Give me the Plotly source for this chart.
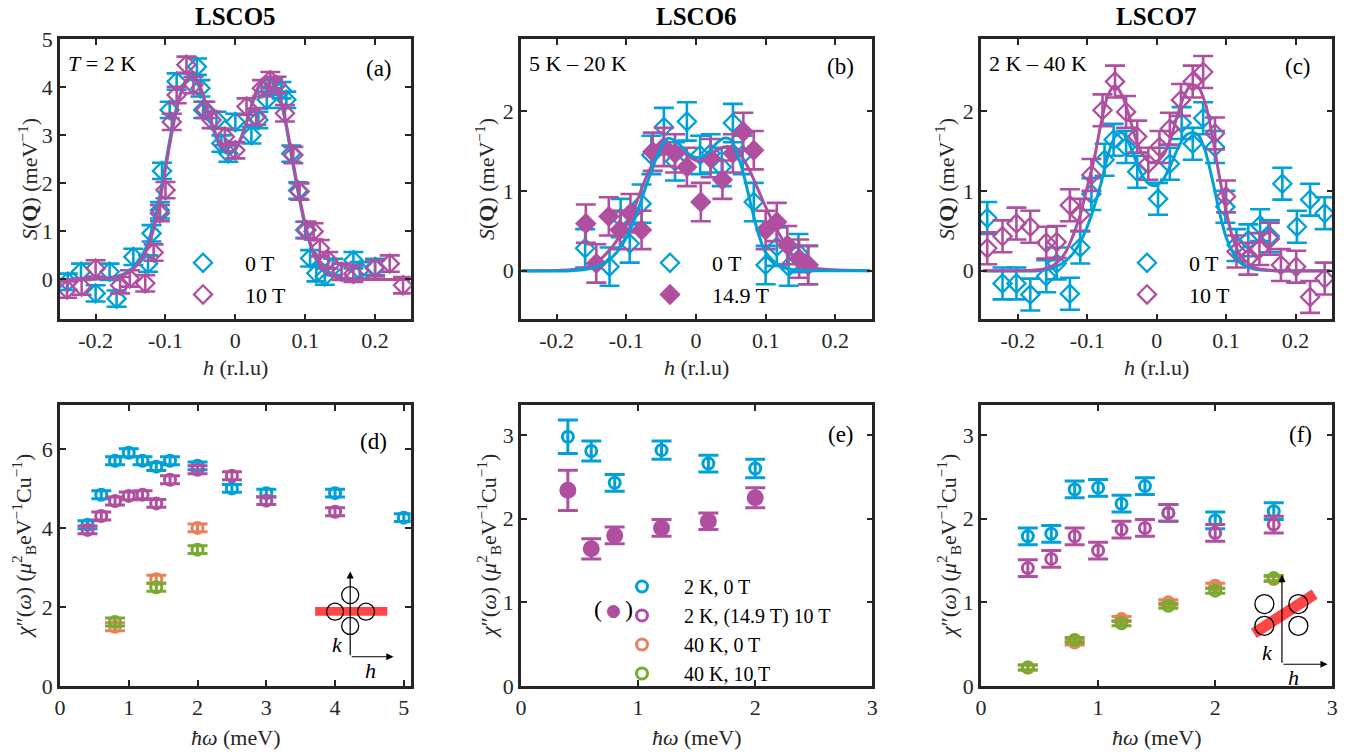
import plotly.graph_objects as go

W, H = 1361, 756
FONT = "Liberation Serif"
BLUE = "#00A0D8"
PURP = "#B04FA0"
ORNG = "#E8825A"
GRN = "#78AB30"
AXC = "#262626"

# ---------------- Panel (a) LSCO5 ----------------
a_h_0T = [-0.24, -0.221, -0.2, -0.18, -0.17, -0.146, -0.125, -0.12, -0.108, -0.105, -0.094, -0.084,
          -0.055, -0.05, -0.046, -0.027, -0.02, -0.01, 0.0, 0.023, 0.033, 0.045, 0.054, 0.066, 0.073,
          0.08, 0.09, 0.1, 0.107, 0.116, 0.128, 0.14, 0.169, 0.178, 0.2]
a_s_0T = [-0.05, 0.16, -0.29, 0.16, -0.4, 0.47, 0.33, 0.96, 1.44, 2.26, 3.53, 4.12,
          4.43, 3.98, 3.53, 3.32, 2.83, 2.62, 3.28, 3.0, 3.32, 3.74, 4.01, 3.94, 3.74,
          2.62, 1.85, 1.03, 0.44, 0.13, 0.06, 0.26, 0.40, 0.19, 0.26]
a_h_10T = [-0.241, -0.22, -0.2, -0.165, -0.151, -0.129, -0.117, -0.108, -0.1, -0.091, -0.084, -0.07,
           -0.06, -0.043, -0.034, -0.015, 0.0, 0.016, 0.03, 0.038, 0.05, 0.059, 0.071, 0.083, 0.092,
           0.102, 0.112, 0.121, 0.133, 0.152, 0.169, 0.2, 0.221, 0.24]
a_s_10T = [-0.21, -0.15, 0.23, -0.12, 0.02, -0.08, 0.56, 1.38, 1.86, 3.28, 3.84, 4.47,
           4.05, 3.53, 3.32, 2.97, 2.69, 3.6, 3.39, 3.98, 4.15, 4.05, 3.46, 2.59, 1.83,
           1.03, 1.0, 0.65, 0.4, 0.16, 0.12, 0.23, 0.33, -0.12]
a_err = 0.17
a_fit_h = [-0.25, -0.2, -0.17, -0.15, -0.13, -0.12, -0.11, -0.1, -0.09, -0.08, -0.07, -0.06, -0.05,
           -0.04, -0.03, -0.02, -0.01, 0.0, 0.01, 0.02, 0.03, 0.04, 0.05, 0.06, 0.07, 0.08, 0.09,
           0.1, 0.11, 0.12, 0.13, 0.15, 0.18, 0.25]
a_fit_0T = [0.0, 0.01, 0.06, 0.2, 0.6, 1.0, 1.6, 2.4, 3.2, 3.8, 4.15, 4.2, 3.95,
            3.5, 3.05, 2.72, 2.62, 2.7, 3.0, 3.45, 3.9, 4.15, 4.18, 3.95, 3.4, 2.6, 1.8,
            1.1, 0.6, 0.3, 0.13, 0.03, 0.0, 0.0]
a_fit_10T = [0.0, 0.01, 0.05, 0.17, 0.52, 0.9, 1.48, 2.3, 3.12, 3.78, 4.15, 4.22, 4.0,
             3.55, 3.1, 2.77, 2.65, 2.72, 3.02, 3.48, 3.92, 4.17, 4.2, 3.98, 3.44, 2.66, 1.86,
             1.15, 0.64, 0.32, 0.14, 0.03, 0.0, 0.0]

# ---------------- Panel (b) LSCO6 ----------------
b_h_0T = [-0.159, -0.124, -0.108, -0.095, -0.078, -0.064, -0.046, -0.03, -0.013, 0.006, 0.021, 0.037,
          0.053, 0.067, 0.083, 0.1, 0.116, 0.133, 0.147, 0.161]
b_s_0T = [0.28, 0.05, 0.66, 0.34, 0.84, 1.45, 1.8, 1.37, 1.87, 1.45, 1.47, 1.3,
          1.85, 1.45, 0.86, 0.07, 0.3, 0.05, 0.22, 0.07]
b_h_149T = [-0.158, -0.143, -0.125, -0.109, -0.094, -0.078, -0.062, -0.046, -0.03, -0.013, 0.007, 0.021,
            0.038, 0.053, 0.068, 0.083, 0.1, 0.116, 0.131, 0.148, 0.161]
b_s_149T = [0.59, 0.09, 0.68, 0.51, 0.72, 0.51, 1.49, 1.55, 1.47, 1.3, 0.86, 1.41,
            1.14, 1.47, 1.74, 1.51, 0.51, 0.61, 0.32, 0.15, 0.07]
b_err = 0.24
b_fit_h = [-0.25, -0.18, -0.15, -0.13, -0.11, -0.09, -0.07, -0.05, -0.04, -0.03, -0.02, -0.01, 0.0,
           0.01, 0.02, 0.03, 0.04, 0.05, 0.06, 0.07, 0.08, 0.09, 0.1, 0.12, 0.14, 0.16, 0.18, 0.25]
b_fit_0T = [0.0, 0.0, 0.03, 0.1, 0.27, 0.6, 1.1, 1.55, 1.66, 1.63, 1.55, 1.46, 1.42,
            1.43, 1.5, 1.6, 1.66, 1.64, 1.45, 1.15, 0.78, 0.45, 0.23, 0.06, 0.01, 0.0, 0.0, 0.0]
b_fit_149T = [0.0, 0.01, 0.06, 0.2, 0.42, 0.75, 1.2, 1.5, 1.56, 1.55, 1.5, 1.43, 1.38,
              1.39, 1.45, 1.51, 1.55, 1.55, 1.5, 1.37, 1.2, 1.0, 0.8, 0.45, 0.18, 0.06, 0.02, 0.0]

# ---------------- Panel (c) LSCO7 ----------------
c_h_0T = [-0.244, -0.222, -0.202, -0.182, -0.159, -0.144, -0.125, -0.11, -0.094, -0.075, -0.062, -0.044,
          -0.028, 0.002, 0.019, 0.036, 0.052, 0.067, 0.084, 0.099, 0.115, 0.132, 0.149, 0.163,
          0.181, 0.202, 0.221, 0.242]
c_s_0T = [0.66, -0.16, -0.16, -0.3, -0.07, 0.09, -0.29, 0.29, 0.96, 1.39, 1.64, 1.55,
          1.24, 0.9, 1.34, 1.85, 1.59, 1.91, 1.55, 0.8, 0.32, 0.38, 0.57, 0.43,
          1.09, 0.55, 0.89, 0.72]
c_h_10T = [-0.244, -0.222, -0.202, -0.182, -0.159, -0.144, -0.125, -0.11, -0.094, -0.078, -0.06, -0.044,
           -0.028, -0.012, 0.004, 0.019, 0.035, 0.052, 0.067, 0.084, 0.1, 0.115, 0.132, 0.148,
           0.163, 0.179, 0.201, 0.221, 0.242]
c_s_10T = [0.28, 0.43, 0.59, 0.55, 0.35, 0.36, 0.82, 0.7, 1.2, 2.01, 2.37, 1.99,
           1.68, 1.34, 1.55, 1.78, 2.14, 2.37, 2.49, 1.72, 0.93, 0.24, 0.15, 0.27,
           0.4, 0.07, 0.05, -0.33, -0.1]
c_err = 0.2
c_fit_h = [-0.25, -0.17, -0.15, -0.14, -0.13, -0.12, -0.11, -0.1, -0.09, -0.08, -0.07, -0.06, -0.05,
           -0.04, -0.03, -0.02, -0.01, 0.0, 0.01, 0.02, 0.03, 0.04, 0.05, 0.06, 0.07, 0.08,
           0.09, 0.1, 0.11, 0.12, 0.14, 0.17, 0.25]
c_fit_0T = [0.0, 0.0, 0.03, 0.07, 0.13, 0.22, 0.36, 0.55, 0.8, 1.1, 1.45, 1.68, 1.73,
            1.6, 1.38, 1.18, 1.08, 1.07, 1.15, 1.32, 1.52, 1.68, 1.73, 1.7, 1.5, 1.15,
            0.75, 0.42, 0.22, 0.1, 0.02, 0.0, 0.0]
c_fit_10T = [0.0, 0.01, 0.06, 0.13, 0.25, 0.45, 0.7, 1.05, 1.4, 1.85, 2.2, 2.32, 2.2,
             1.95, 1.65, 1.45, 1.36, 1.37, 1.45, 1.65, 1.95, 2.2, 2.33, 2.3, 2.1, 1.7,
             1.2, 0.75, 0.4, 0.2, 0.04, 0.0, 0.0]

# ---------------- Panel (d) LSCO5 chi'' ----------------
d_w_2K0T = [0.4, 0.6, 0.8, 1.0, 1.2, 1.4, 1.6, 2.0, 2.5, 3.0, 4.0, 5.0]
d_c_2K0T = [4.08, 4.84, 5.7, 5.9, 5.7, 5.55, 5.7, 5.57, 5.0, 4.88, 4.88, 4.26]
d_w_2K10T = [0.4, 0.6, 0.8, 1.0, 1.2, 1.4, 1.6, 2.0, 2.5, 3.0, 4.0]
d_c_2K10T = [3.95, 4.3, 4.68, 4.81, 4.84, 4.62, 5.22, 5.47, 5.32, 4.69, 4.41]
d_w_40K0T = [0.8, 1.4, 2.0]
d_c_40K0T = [1.5, 2.7, 4.0]
d_w_40K10T = [0.8, 1.4, 2.0]
d_c_40K10T = [1.62, 2.5, 3.45]
d_err = 0.1

# ---------------- Panel (e) LSCO6 chi'' ----------------
e_w_2K0T = [0.4, 0.6, 0.8, 1.2, 1.6, 2.0]
e_c_2K0T = [2.98, 2.81, 2.43, 2.82, 2.66, 2.6]
e_err_2K0T = [0.2, 0.12, 0.1, 0.11, 0.1, 0.11]
e_w_2K149T = [0.4, 0.6, 0.8, 1.2, 1.6, 2.0]
e_c_2K149T = [2.34, 1.64, 1.8, 1.89, 1.97, 2.25]
e_err_2K149T = [0.24, 0.12, 0.1, 0.1, 0.1, 0.12]

# ---------------- Panel (f) LSCO7 chi'' ----------------
f_w = [0.4, 0.6, 0.8, 1.0, 1.2, 1.4, 1.6, 2.0, 2.5]
f_c_2K0T = [1.79, 1.82, 2.35, 2.37, 2.18, 2.39, 2.07, 1.98, 2.09]
f_c_2K10T = [1.41, 1.52, 1.79, 1.62, 1.87, 1.89, 2.07, 1.83, 1.93]
f_w_40K = [0.4, 0.8, 1.2, 1.6, 2.0, 2.5]
f_c_40K0T = [0.22, 0.52, 0.8, 1.0, 1.2, 1.28]
f_c_40K10T = [0.22, 0.55, 0.75, 0.96, 1.14, 1.29]
f_err = 0.1

titles = ["LSCO5", "LSCO6", "LSCO7"]
temp_labels = ["<i>T</i> = 2 K", "5 K – 20 K", "2 K – 40 K"]
panel_labels = ["(a)", "(b)", "(c)", "(d)", "(e)", "(f)"]
legend_labels = ["0 T", "10 T", "14.9 T"]
chi_legend = ["2 K, 0 T", "2 K, (14.9 T) 10 T", "40 K, 0 T", "40 K, 10 T"]

# ---------------- geometry (pixels) ----------------
cols_px = [(60, 410.7), (521, 872.3), (981, 1332.3)]
top_px = (39.3, 319.3)
bot_px = (405, 686)


def fx(p):
    return p / W


def fy(p):
    return 1 - p / H


fig = go.Figure()


def diamonds(x, y, err, color, name, xa, ya, legend, filled=False, showlegend=True):
    fig.add_trace(go.Scatter(
        x=x, y=y, mode="markers", name=name, xaxis=xa, yaxis=ya, legend=legend,
        showlegend=showlegend,
        marker=dict(symbol="diamond" if filled else "diamond-open", size=14, color=color,
                    line=dict(width=2.3, color=color)),
        error_y=dict(type="constant", value=err, color=color, thickness=2.6, width=10),
    ))


def fitline(x, y, color, xa, ya):
    fig.add_trace(go.Scatter(x=x, y=y, mode="lines", xaxis=xa, yaxis=ya, showlegend=False,
                             line=dict(color=color, width=3, shape="spline", smoothing=0.8),
                             hoverinfo="skip"))


def circles(x, y, err, color, name, xa, ya, filled=False, showlegend=False):
    fig.add_trace(go.Scatter(
        x=x, y=y, mode="markers", name=name, xaxis=xa, yaxis=ya, legend="legend4",
        showlegend=showlegend,
        marker=dict(symbol="circle" if filled else "circle-open", size=14 if filled else 11,
                    color=color, line=dict(width=3, color=color)),
        error_y=(dict(type="data", array=err, color=color, thickness=3, width=10)
                 if isinstance(err, list) else
                 dict(type="constant", value=err, color=color, thickness=3, width=10)),
    ))


# (a)
diamonds(a_h_0T, a_s_0T, a_err, BLUE, legend_labels[0], "x", "y", "legend")
diamonds(a_h_10T, a_s_10T, a_err, PURP, legend_labels[1], "x", "y", "legend")
fitline(a_fit_h, a_fit_0T, BLUE, "x", "y")
fitline(a_fit_h, a_fit_10T, PURP, "x", "y")
# (b)
diamonds(b_h_0T, b_s_0T, b_err, BLUE, legend_labels[0], "x2", "y2", "legend2")
diamonds(b_h_149T, b_s_149T, b_err, PURP, legend_labels[2], "x2", "y2", "legend2", filled=True)
fitline(b_fit_h, b_fit_149T, PURP, "x2", "y2")
fitline(b_fit_h, b_fit_0T, BLUE, "x2", "y2")
# (c)
diamonds(c_h_0T, c_s_0T, c_err, BLUE, legend_labels[0], "x3", "y3", "legend3")
diamonds(c_h_10T, c_s_10T, c_err, PURP, legend_labels[1], "x3", "y3", "legend3")
fitline(c_fit_h, c_fit_0T, BLUE, "x3", "y3")
fitline(c_fit_h, c_fit_10T, PURP, "x3", "y3")
# (d)
circles(d_w_2K0T, d_c_2K0T, d_err, BLUE, chi_legend[0], "x4", "y4", showlegend=True)
circles(d_w_2K10T, d_c_2K10T, d_err, PURP, chi_legend[1], "x4", "y4", showlegend=True)
circles(d_w_40K0T, d_c_40K0T, d_err, ORNG, chi_legend[2], "x4", "y4", showlegend=True)
circles(d_w_40K10T, d_c_40K10T, d_err, GRN, chi_legend[3], "x4", "y4", showlegend=True)
# (e)
circles(e_w_2K0T, e_c_2K0T, e_err_2K0T, BLUE, chi_legend[0], "x5", "y5")
circles(e_w_2K149T, e_c_2K149T, e_err_2K149T, PURP, chi_legend[1], "x5", "y5", filled=True)
# (f)
circles(f_w, f_c_2K0T, f_err, BLUE, chi_legend[0], "x6", "y6")
circles(f_w, f_c_2K10T, f_err, PURP, chi_legend[1], "x6", "y6")
circles(f_w_40K, f_c_40K0T, 0.03, ORNG, chi_legend[2], "x6", "y6")
circles(f_w_40K, f_c_40K10T, 0.03, GRN, chi_legend[3], "x6", "y6")

FS = 22
tickfont = dict(family=FONT, size=FS, color=AXC)


def axis(domain, anchor, rng, tickvals, ticktext=None):
    d = dict(domain=domain, anchor=anchor, range=rng, tickvals=tickvals,
             showline=True, linecolor=AXC, linewidth=2.5, mirror="ticks",
             ticks="inside", ticklen=6, tickwidth=2, tickcolor=AXC,
             showgrid=False, zeroline=False, tickfont=tickfont, automargin=False,
             fixedrange=True)
    if ticktext is not None:
        d["ticktext"] = ticktext
    return d


hx_vals = [-0.2, -0.1, 0, 0.1, 0.2]
hx_text = ["-0.2", "-0.1", "0", "0.1", "0.2"]
ytop = [fy(top_px[1]), fy(top_px[0])]
ybot = [fy(bot_px[1]), fy(bot_px[0])]
xd = [[fx(a), fx(b)] for a, b in cols_px]

layout = dict(
    width=W, height=H, margin=dict(l=0, r=0, t=0, b=0),
    paper_bgcolor="white", plot_bgcolor="white",
    xaxis=axis(xd[0], "y", [-0.251, 0.251], hx_vals, hx_text),
    yaxis=axis(ytop, "x", [-0.83, 5.0], [0, 1, 2, 3, 4, 5]),
    xaxis2=axis(xd[1], "y2", [-0.251, 0.253], hx_vals, hx_text),
    yaxis2=axis(ytop, "x2", [-0.61, 2.9], [0, 1, 2]),
    xaxis3=axis(xd[2], "y3", [-0.253, 0.253], hx_vals, hx_text),
    yaxis3=axis(ytop, "x3", [-0.61, 2.9], [0, 1, 2]),
    xaxis4=axis(xd[0], "y4", [0, 5.1], [0, 1, 2, 3, 4, 5]),
    yaxis4=axis(ybot, "x4", [0, 7.11], [0, 2, 4, 6]),
    xaxis5=axis(xd[1], "y5", [0, 3], [0, 1, 2, 3]),
    yaxis5=axis(ybot, "x5", [0, 3.36], [0, 1, 2, 3]),
    xaxis6=axis(xd[2], "y6", [0, 3], [0, 1, 2, 3]),
    yaxis6=axis(ybot, "x6", [0, 3.36], [0, 1, 2, 3]),
)

leg_common = dict(bgcolor="rgba(0,0,0,0)", xanchor="left", yanchor="top",
                  itemwidth=74, tracegroupgap=0, traceorder="normal")
legfont = dict(family=FONT, size=FS, color="black")
layout["legend"] = dict(x=fx(161), y=fy(242), font=legfont, **leg_common)
layout["legend2"] = dict(x=fx(628), y=fy(242), font=legfont, **leg_common)
layout["legend3"] = dict(x=fx(1105), y=fy(242), font=legfont, **leg_common)
layout["legend4"] = dict(x=fx(600), y=fy(567), font=dict(family=FONT, size=20, color="black"),
                         **leg_common)
fig.update_layout(**layout)


def txt(x, y, text, size=FS, color="black", xanchor="center", yanchor="middle", **kw):
    d = dict(x=x, y=y, xref="paper", yref="paper", text=text, showarrow=False,
             xanchor=xanchor, yanchor=yanchor, font=dict(family=FONT, size=size, color=color))
    d.update(kw)
    return d


ann = []
for (a, b), t in zip(cols_px, titles):
    ann.append(txt(fx((a + b) / 2), fy(16), "<b>" + t + "</b>", size=25))
for (a, b), t in zip(cols_px, temp_labels):
    ann.append(txt(fx(a + 6), fy(63), t, xanchor="left"))
letter_pos = [(379, 68), (840, 66), (1298, 66), (373, 441), (841, 434), (1300, 434)]
for (px, py), t in zip(letter_pos, panel_labels):
    ann.append(txt(fx(px), fy(py), t, size=23))
sq_title = "<i>S</i>(<b>Q</b>) (meV<sup>−1</sup>)"
chi_title = "<i>χ</i>″(<i>ω</i>) (<i>μ</i><sup>2</sup><sub>B</sub>eV<sup>−1</sup>Cu<sup>−1</sup>)"
for (a, b), ytx in zip(cols_px, [28, 485, 945]):
    ann.append(txt(fx((a + b) / 2), fy(367), "<i>h</i> (r.l.u)", color=AXC))
    ann.append(txt(fx(ytx), fy(179), sq_title, color=AXC, textangle=-90))
for (a, b), ytx in zip(cols_px, [23, 488, 948]):
    ann.append(txt(fx((a + b) / 2), fy(737), "<i>ħω</i> (meV)", color=AXC))
    ann.append(txt(fx(ytx), fy(546), chi_title, color=AXC, textangle=-90))
ann.append(txt(fx(598), fy(609), "(", size=24))
ann.append(txt(fx(629), fy(609), ")", size=24))
ann.append(dict(x=fx(613), y=fy(610), xref="paper", yref="paper", text="●", showarrow=False,
                xanchor="center", yanchor="middle",
                font=dict(family="DejaVu Sans", size=17, color=PURP)))


def arrow(xa, ya, x0, y0, x1, y1):
    return dict(x=x1, y=y1, ax=x0, ay=y0, xref=xa, yref=ya, axref=xa, ayref=ya, text="",
                showarrow=True, arrowhead=2, arrowsize=1.2, arrowwidth=1.2, arrowcolor="black")


def dtxt(xa, ya, x, y, t):
    return dict(x=x, y=y, xref=xa, yref=ya, text=t, showarrow=False, xanchor="center",
                yanchor="middle", font=dict(family=FONT, size=FS, color="black"))


ann += [arrow("x4", "y4", 4.22, 0.74, 4.22, 2.9), arrow("x4", "y4", 4.22, 0.74, 4.85, 0.74),
        dtxt("x4", "y4", 4.03, 1.04, "<i>k</i>"), dtxt("x4", "y4", 4.51, 0.4, "<i>h</i>"),
        arrow("x6", "y6", 2.57, 0.26, 2.57, 1.33), arrow("x6", "y6", 2.57, 0.26, 2.96, 0.26),
        dtxt("x6", "y6", 2.45, 0.4, "<i>k</i>"), dtxt("x6", "y6", 2.67, 0.1, "<i>h</i>")]

shapes = []
RED = "#FF4545"
shapes.append(dict(type="rect", xref="x4", yref="y4", x0=3.71, x1=4.76, y0=1.78, y1=2.0,
                   fillcolor=RED, line=dict(width=0)))
for cx, cy in [(4.22, 2.3), (4.0, 1.88), (4.45, 1.88), (4.22, 1.52)]:
    shapes.append(dict(type="circle", xref="x4", yref="y4", xsizemode="pixel", ysizemode="pixel",
                       xanchor=cx, yanchor=cy, x0=-8.5, x1=8.5, y0=-8.5, y1=8.5,
                       line=dict(color="black", width=1.3)))
shapes.append(dict(type="line", xref="x6", yref="y6", x0=2.33, y0=0.63, x1=2.85, y1=1.1,
                   line=dict(color=RED, width=11)))
for cx, cy in [(2.42, 0.98), (2.71, 0.98), (2.42, 0.72), (2.71, 0.72)]:
    shapes.append(dict(type="circle", xref="x6", yref="y6", xsizemode="pixel", ysizemode="pixel",
                       xanchor=cx, yanchor=cy, x0=-9.5, x1=9.5, y0=-9.5, y1=9.5,
                       line=dict(color="black", width=1.3)))

fig.update_layout(annotations=ann, shapes=shapes)
fig.write_html("out.html", config={"displayModeBar": False},
               post_script="document.body.style.margin='0';document.body.style.overflow='hidden';")
